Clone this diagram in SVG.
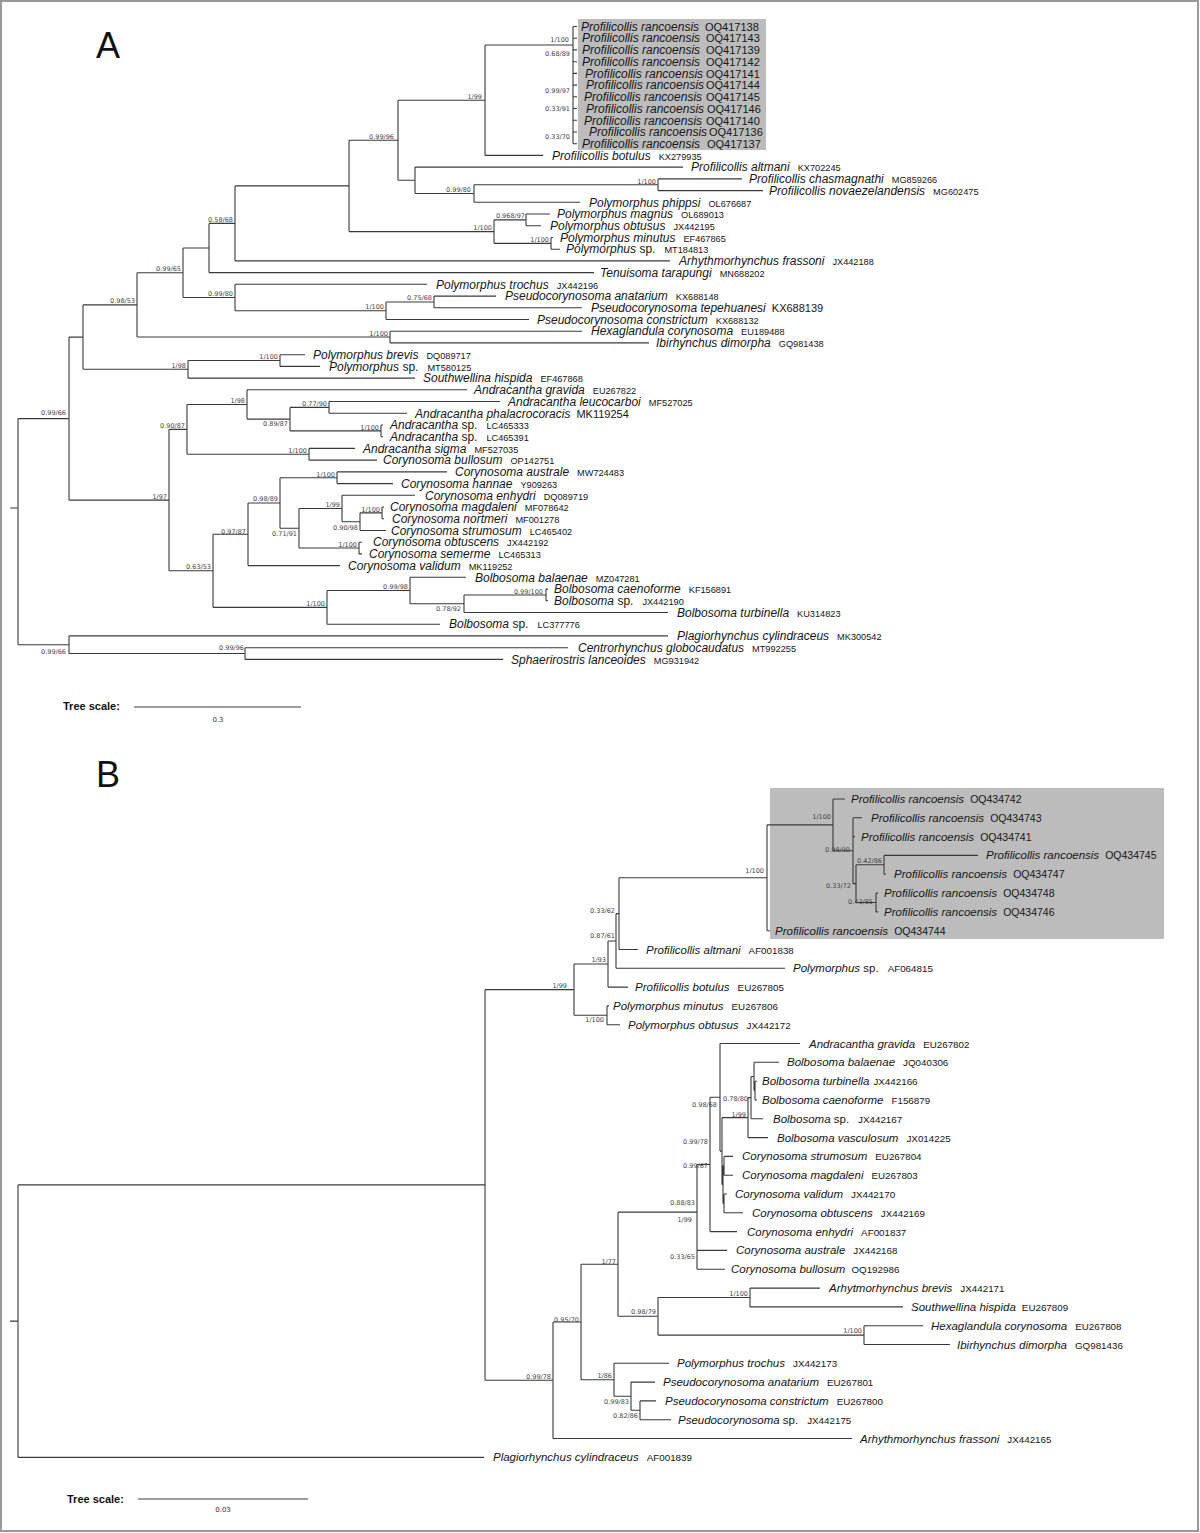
<svg xmlns="http://www.w3.org/2000/svg" width="1200" height="1533" viewBox="0 0 1200 1533">
<style>
.br{fill:none;stroke:#3a3a3a;stroke-width:1.1}
.sp{font-family:"Liberation Sans",Arial,sans-serif;font-style:italic;font-size:12px;fill:#151515}
.spb{font-family:"Liberation Sans",Arial,sans-serif;font-style:italic;font-size:11.5px;fill:#151515}
.ac{font-style:normal;font-size:9.2px}
.acb{font-style:normal;font-size:9.8px}
.al{font-style:normal;font-size:11px}
.al2{font-style:normal;font-size:10.5px}
.up{font-style:normal}
.bs{font-family:"DejaVu Sans",sans-serif;font-size:6.5px;fill:#444;text-anchor:end}
.ts{font-family:"Liberation Sans",Arial,sans-serif;font-weight:bold;font-size:11px;fill:#111}
.tv{font-family:"DejaVu Sans",sans-serif;font-size:7px;fill:#333;text-anchor:middle}
.pl{font-family:"Liberation Sans",Arial,sans-serif;font-size:36px;fill:#111}
.box{fill:#bcbcbc}
</style>
<rect x="0" y="0" width="1200" height="1533" fill="#fff"/>
<rect x="1" y="1" width="1197" height="1530" fill="none" stroke="#999" stroke-width="2"/>
<text class="pl" x="96" y="58">A</text>
<text class="pl" x="96" y="787">B</text>
<rect class="box" x="578" y="19" width="188" height="131"/>
<rect class="box" x="770" y="788" width="394" height="151"/>
<g id="connectors-A">
<path class="br" d="M573 26.5V143.7M573 26.5H577M573 38.2H577M573 49.9H577M573 61.7H577M573 73.4H577M573 85.1H577M573 96.8H577M573 108.5H577M573 120.3H577M573 132H577M573 143.7H577
M485 45H573
M485 45V155.4M485 155.4H543
M398 100.2V180.3M398 100.2H485M398 180.3H415
M415 167.1V193.5M415 167.1H683M415 193.5H474
M474 184.75V202.3M474 184.75H658M474 202.3H580
M658 178.9V190.6M658 178.9H742M658 190.6H763
M349 140.25V231.6M349 140.25H398M349 231.6H494
M494 219.85V243.35M494 219.85H526M494 243.35H551
M526 214V225.7M526 214H550M526 225.7H541
M551 237.5V249.2M551 237.5H553M551 249.2H560
M235 185.9V260.9M235 185.9H349M235 260.9H670
M209 223.4V272.6M209 223.4H235M209 272.6H594
M183 248V297.5M183 248H209M183 297.5H235
M235 284.3V310.7M235 284.3H427M235 310.7H386
M386 301.95V319.5M386 301.95H434M386 319.5H529
M434 296.1V307.8M434 296.1H496M434 307.8H582
M137 272.75V337.05M137 272.75H183M137 337.05H390
M390 331.2V342.9M390 331.2H582M390 342.9H649
M83 304.9V369.3M83 304.9H137M83 369.3H188
M188 360.55V378.1M188 360.55H280M188 378.1H415
M280 354.7V366.4M280 354.7H305M280 366.4H320
M69 337.1V500.1M69 337.1H83M69 500.1H169
M169 429.35V570.8M169 429.35H187M169 570.8H213
M187 404.45V454.25M187 404.45H247M187 454.25H309
M247 389.8V419.1M247 389.8H467M247 419.1H290
M290 407.4V430.85M290 407.4H329M290 430.85H381
M329 401.5V413.3M329 401.5H500M329 413.3H407
M381 425V436.7M381 425H383M381 436.7H383
M309 448.4V460.1M309 448.4H355M309 460.1H377
M213 534.3V607.35M213 534.3H248M213 607.35H327
M248 503V565.6M248 503H280M248 565.6H340
M280 477.75V528.3M280 477.75H337M280 528.3H299
M337 471.9V483.6M337 471.9H447M337 483.6H393
M299 508.5V548.05M299 508.5H342M299 548.05H359
M342 495.3V521.7M342 495.3H415M342 521.7H360
M360 512.85V530.5M360 512.85H382M360 530.5H386
M382 507V518.7M382 507H384M382 518.7H384
M359 542.2V553.9M359 542.2H362M359 553.9H362
M327 590.5V624.2M327 590.5H410M327 624.2H440
M410 577.3V603.7M410 577.3H466M410 603.7H464
M464 594.95V612.5M464 594.95H546M464 612.5H668
M546 589.1V600.8M546 589.1H548M546 600.8H548
M18 418.6V644.7M18 418.6H69M18 644.7H69M10 508H18
M69 635.9V653.55M69 635.9H668M69 653.55H245
M245 647.7V659.4M245 647.7H568M245 659.4H503
M134 707H301"/>
</g>
<g id="connectors-B">
<path class="br" d="M18 1184.9V1457.4M18 1184.9H485M18 1457.4H484M10 1321.1H18
M485 989.65V1380.24M485 989.65H574M485 1380.24H553
M574 964V1015.3M574 964H608M574 1015.3H607
M608 941V987.1M608 941H616M608 987.1H628
M616 913.65V968.3M616 913.65H619M616 968.3H785
M619 877.8V949.5M619 877.8H767M619 949.5H638
M767 824.85V930.7M767 824.85H833M767 930.7H770
M833 799V850.7M833 799H845M833 850.7H853
M853 817.8V883.65M853 817.8H862M853 836.6H855M853 883.65H856
M856 864.8V902.5M856 864.8H884M856 902.5H876
M884 855.4V874.2M884 855.4H978M884 874.2H886
M876 893.1V911.9M876 893.1H878M876 911.9H878
M607 1005.9V1024.7M607 1005.9H609M607 1024.7H620
M553 1321.98V1438.5M553 1321.98H581M553 1438.5H852
M581 1264.2V1379.75M581 1264.2H618M581 1379.75H614
M618 1212.15V1316.3M618 1212.15H697M618 1316.3H658
M697 1164.45V1269.3M697 1164.45H710M697 1250.4H727M697 1269.3H725
M710 1097.3V1231.6M710 1097.3H720M710 1231.6H737
M720 1043.5V1151.1M720 1043.5H800M720 1151.1H722
M722 1117.6V1184.6M722 1117.6H748M722 1184.6H723
M723 1165.8V1203.4M723 1165.8H724M723 1203.4H724
M724 1156.4V1175.2M724 1156.4H733M724 1175.2H733
M724 1194V1212.8M724 1194H727M724 1212.8H743
M748 1097.6V1137.6M748 1097.6H751M748 1137.6H768
M751 1076.45V1118.8M751 1076.45H754M751 1118.8H763
M754 1062.3V1090.6M754 1062.3H779M754 1090.6H755
M755 1081.2V1100M755 1081.2H757M755 1100H757
M658 1297.5V1335.1M658 1297.5H750M658 1335.1H864
M750 1288.1V1306.9M750 1288.1H820M750 1306.9H903
M864 1325.7V1344.5M864 1325.7H923M864 1344.5H950
M614 1363.3V1396.2M614 1363.3H669M614 1396.2H631
M631 1382.1V1410.3M631 1382.1H655M631 1410.3H640
M640 1400.9V1419.7M640 1400.9H656M640 1419.7H671
M138 1499H308"/>
</g>
<g id="tips-A">
<g id="a01"><text class="sp" x="581" y="30.7">Profilicollis rancoensis</text><text class="sp al" x="705" y="30.7">OQ417138</text></g>
<g id="a02"><text class="sp" x="582" y="42.4">Profilicollis rancoensis</text><text class="sp al" x="706" y="42.4">OQ417143</text></g>
<g id="a03"><text class="sp" x="582" y="54.1">Profilicollis rancoensis</text><text class="sp al" x="706" y="54.1">OQ417139</text></g>
<g id="a04"><text class="sp" x="582" y="65.9">Profilicollis rancoensis</text><text class="sp al" x="706" y="65.9">OQ417142</text></g>
<g id="a05"><text class="sp" x="585" y="77.6">Profilicollis rancoensis</text><text class="sp al" x="706" y="77.6">OQ417141</text></g>
<g id="a06"><text class="sp" x="586" y="89.3">Profilicollis rancoensis</text><text class="sp al" x="706" y="89.3">OQ417144</text></g>
<g id="a07"><text class="sp" x="584" y="101">Profilicollis rancoensis</text><text class="sp al" x="706" y="101">OQ417145</text></g>
<g id="a08"><text class="sp" x="586" y="112.7">Profilicollis rancoensis</text><text class="sp al" x="707" y="112.7">OQ417146</text></g>
<g id="a09"><text class="sp" x="584" y="124.5">Profilicollis rancoensis</text><text class="sp al" x="706" y="124.5">OQ417140</text></g>
<g id="a10"><text class="sp" x="589" y="136.2">Profilicollis rancoensis</text><text class="sp al" x="709" y="136.2">OQ417136</text></g>
<g id="a11"><text class="sp" x="582" y="147.9">Profilicollis rancoensis</text><text class="sp al" x="707" y="147.9">OQ417137</text></g>
<g id="a12"><text class="sp" x="552" y="159.6">Profilicollis botulus<tspan class="ac" dx="8">KX279935</tspan></text></g>
<g id="a13"><text class="sp" x="691" y="171.3">Profilicollis altmani<tspan class="ac" dx="8">KX702245</tspan></text></g>
<g id="a14"><text class="sp" x="749" y="183.1">Profilicollis chasmagnathi<tspan class="ac" dx="8">MG859266</tspan></text></g>
<g id="a15"><text class="sp" x="769" y="194.8">Profilicollis novaezelandensis<tspan class="ac" dx="8">MG602475</tspan></text></g>
<g id="a16"><text class="sp" x="589" y="206.5">Polymorphus phippsi<tspan class="ac" dx="8">OL676687</tspan></text></g>
<g id="a17"><text class="sp" x="557" y="218.2">Polymorphus magnus<tspan class="ac" dx="8">OL689013</tspan></text></g>
<g id="a18"><text class="sp" x="550" y="229.9">Polymorphus obtusus<tspan class="ac" dx="8">JX442195</tspan></text></g>
<g id="a19"><text class="sp" x="560" y="241.7">Polymorphus minutus<tspan class="ac" dx="8">EF467865</tspan></text></g>
<g id="a20"><text class="sp" x="566" y="253.4">Polymorphus <tspan class="up">sp.</tspan><tspan class="ac" dx="9">MT184813</tspan></text></g>
<g id="a21"><text class="sp" x="679" y="265.1">Arhythmorhynchus frassoni<tspan class="ac" dx="8">JX442188</tspan></text></g>
<g id="a22"><text class="sp" x="600" y="276.8">Tenuisoma tarapungi<tspan class="ac" dx="8">MN688202</tspan></text></g>
<g id="a23"><text class="sp" x="436" y="288.5">Polymorphus trochus<tspan class="ac" dx="8">JX442196</tspan></text></g>
<g id="a24"><text class="sp" x="505" y="300.3">Pseudocorynosoma anatarium<tspan class="ac" dx="8">KX688148</tspan></text></g>
<g id="a25"><text class="sp" x="591" y="312">Pseudocorynosoma tepehuanesi<tspan class="al" dx="6">KX688139</tspan></text></g>
<g id="a26"><text class="sp" x="537" y="323.7">Pseudocorynosoma constrictum<tspan class="ac" dx="8">KX688132</tspan></text></g>
<g id="a27"><text class="sp" x="591" y="335.4">Hexaglandula corynosoma<tspan class="ac" dx="8">EU189488</tspan></text></g>
<g id="a28"><text class="sp" x="656" y="347.1">Ibirhynchus dimorpha<tspan class="ac" dx="8">GQ981438</tspan></text></g>
<g id="a29"><text class="sp" x="313" y="358.9">Polymorphus brevis<tspan class="ac" dx="8">DQ089717</tspan></text></g>
<g id="a30"><text class="sp" x="329" y="370.6">Polymorphus <tspan class="up">sp.</tspan><tspan class="ac" dx="9">MT580125</tspan></text></g>
<g id="a31"><text class="sp" x="423" y="382.3">Southwellina hispida<tspan class="ac" dx="8">EF467868</tspan></text></g>
<g id="a32"><text class="sp" x="474" y="394">Andracantha gravida<tspan class="ac" dx="8">EU267822</tspan></text></g>
<g id="a33"><text class="sp" x="508" y="405.7">Andracantha leucocarboi<tspan class="ac" dx="8">MF527025</tspan></text></g>
<g id="a34"><text class="sp" x="415" y="417.5">Andracantha phalacrocoracis<tspan class="al" dx="6">MK119254</tspan></text></g>
<g id="a35"><text class="sp" x="390" y="429.2">Andracantha <tspan class="up">sp.</tspan><tspan class="ac" dx="9">LC465333</tspan></text></g>
<g id="a36"><text class="sp" x="390" y="440.9">Andracantha <tspan class="up">sp.</tspan><tspan class="ac" dx="9">LC465391</tspan></text></g>
<g id="a37"><text class="sp" x="363" y="452.6">Andracantha sigma<tspan class="ac" dx="8">MF527035</tspan></text></g>
<g id="a38"><text class="sp" x="383" y="464.3">Corynosoma bullosum<tspan class="ac" dx="8">OP142751</tspan></text></g>
<g id="a39"><text class="sp" x="455" y="476.1">Corynosoma australe<tspan class="ac" dx="8">MW724483</tspan></text></g>
<g id="a40"><text class="sp" x="401" y="487.8">Corynosoma hannae<tspan class="ac" dx="8">Y909263</tspan></text></g>
<g id="a41"><text class="sp" x="425" y="499.5">Corynosoma enhydri<tspan class="ac" dx="8">DQ089719</tspan></text></g>
<g id="a42"><text class="sp" x="390" y="511.2">Corynosoma magdaleni<tspan class="ac" dx="8">MF078642</tspan></text></g>
<g id="a43"><text class="sp" x="392" y="522.9">Corynosoma nortmeri<tspan class="ac" dx="8">MF001278</tspan></text></g>
<g id="a44"><text class="sp" x="391" y="534.7">Corynosoma strumosum<tspan class="ac" dx="8">LC465402</tspan></text></g>
<g id="a45"><text class="sp" x="373" y="546.4">Corynosoma obtuscens<tspan class="ac" dx="8">JX442192</tspan></text></g>
<g id="a46"><text class="sp" x="369" y="558.1">Corynosoma semerme<tspan class="ac" dx="8">LC465313</tspan></text></g>
<g id="a47"><text class="sp" x="348" y="569.8">Corynosoma validum<tspan class="ac" dx="8">MK119252</tspan></text></g>
<g id="a48"><text class="sp" x="475" y="581.5">Bolbosoma balaenae<tspan class="ac" dx="8">MZ047281</tspan></text></g>
<g id="a49"><text class="sp" x="554" y="593.3">Bolbosoma caenoforme<tspan class="ac" dx="8">KF156891</tspan></text></g>
<g id="a50"><text class="sp" x="554" y="605">Bolbosoma <tspan class="up">sp.</tspan><tspan class="ac" dx="9">JX442190</tspan></text></g>
<g id="a51"><text class="sp" x="677" y="616.7">Bolbosoma turbinella<tspan class="ac" dx="8">KU314823</tspan></text></g>
<g id="a52"><text class="sp" x="449" y="628.4">Bolbosoma <tspan class="up">sp.</tspan><tspan class="ac" dx="9">LC377776</tspan></text></g>
<g id="a53"><text class="sp" x="677" y="640.1">Plagiorhynchus cylindraceus<tspan class="ac" dx="8">MK300542</tspan></text></g>
<g id="a54"><text class="sp" x="578" y="651.9">Centrorhynchus globocaudatus<tspan class="ac" dx="8">MT992255</tspan></text></g>
<g id="a55"><text class="sp" x="511" y="663.6">Sphaerirostris lanceoides<tspan class="ac" dx="8">MG931942</tspan></text></g>
</g>
<g id="support-A">
<text class="bs" x="569" y="42.4">1/100</text>
<text class="bs" x="570" y="56.4">0.68/89</text>
<text class="bs" x="570" y="93.4">0.99/97</text>
<text class="bs" x="570" y="111.4">0.33/91</text>
<text class="bs" x="570" y="139.4">0.33/70</text>
<text class="bs" x="482" y="99.4">1/99</text>
<text class="bs" x="394" y="139.4">0.99/96</text>
<text class="bs" x="656" y="184.4">1/100</text>
<text class="bs" x="471" y="192.4">0.99/80</text>
<text class="bs" x="525" y="218.4">0.968/97</text>
<text class="bs" x="492" y="230.4">1/100</text>
<text class="bs" x="549" y="242.4">1/100</text>
<text class="bs" x="233" y="222.4">0.58/68</text>
<text class="bs" x="181" y="271.4">0.99/65</text>
<text class="bs" x="233" y="296.4">0.99/80</text>
<text class="bs" x="384" y="309.4">1/100</text>
<text class="bs" x="432" y="300.4">0.75/68</text>
<text class="bs" x="135" y="303.4">0.98/53</text>
<text class="bs" x="388" y="336.4">1/100</text>
<text class="bs" x="278" y="359.4">1/100</text>
<text class="bs" x="186" y="368.4">1/98</text>
<text class="bs" x="66" y="415.4">0.99/66</text>
<text class="bs" x="245" y="403.4">1/98</text>
<text class="bs" x="327" y="406.4">0.77/90</text>
<text class="bs" x="288" y="426.4">0.89/87</text>
<text class="bs" x="379" y="430.4">1/100</text>
<text class="bs" x="185" y="428.4">0.90/87</text>
<text class="bs" x="307" y="453.4">1/100</text>
<text class="bs" x="335" y="477.4">1/100</text>
<text class="bs" x="278" y="501.4">0.98/89</text>
<text class="bs" x="340" y="507.4">1/99</text>
<text class="bs" x="380" y="512.4">1/100</text>
<text class="bs" x="358" y="530.4">0.90/98</text>
<text class="bs" x="297" y="536.4">0.71/91</text>
<text class="bs" x="246" y="534.4">0.97/87</text>
<text class="bs" x="357" y="547.4">1/100</text>
<text class="bs" x="167" y="499.4">1/97</text>
<text class="bs" x="211" y="569.4">0.63/53</text>
<text class="bs" x="408" y="589.4">0.99/98</text>
<text class="bs" x="543" y="594.4">0.99/100</text>
<text class="bs" x="461" y="611.4">0.78/92</text>
<text class="bs" x="325" y="606.4">1/100</text>
<text class="bs" x="66" y="654.4">0.99/66</text>
<text class="bs" x="244" y="650.4">0.99/96</text>
</g>
<g id="scale-A">
<text class="ts" x="63" y="710">Tree scale:</text>
<text class="tv" x="218" y="722">0.3</text>
</g>
<g id="tips-B">
<g id="b01"><text class="spb" x="851" y="803">Profilicollis rancoensis<tspan class="al2" dx="6">OQ434742</tspan></text></g>
<g id="b02"><text class="spb" x="871" y="821.8">Profilicollis rancoensis<tspan class="al2" dx="6">OQ434743</tspan></text></g>
<g id="b03"><text class="spb" x="861" y="840.6">Profilicollis rancoensis<tspan class="al2" dx="6">OQ434741</tspan></text></g>
<g id="b04"><text class="spb" x="986" y="859.4">Profilicollis rancoensis<tspan class="al2" dx="6">OQ434745</tspan></text></g>
<g id="b05"><text class="spb" x="894" y="878.2">Profilicollis rancoensis<tspan class="al2" dx="6">OQ434747</tspan></text></g>
<g id="b06"><text class="spb" x="884" y="897.1">Profilicollis rancoensis<tspan class="al2" dx="6">OQ434748</tspan></text></g>
<g id="b07"><text class="spb" x="884" y="915.9">Profilicollis rancoensis<tspan class="al2" dx="6">OQ434746</tspan></text></g>
<g id="b08"><text class="spb" x="775" y="934.7">Profilicollis rancoensis<tspan class="al2" dx="6">OQ434744</tspan></text></g>
<g id="b09"><text class="spb" x="646" y="953.5">Profilicollis altmani<tspan class="acb" dx="8">AF001838</tspan></text></g>
<g id="b10"><text class="spb" x="793" y="972.3">Polymorphus <tspan class="up">sp.</tspan><tspan class="acb" dx="9">AF064815</tspan></text></g>
<g id="b11"><text class="spb" x="635" y="991.1">Profilicollis botulus<tspan class="acb" dx="8">EU267805</tspan></text></g>
<g id="b12"><text class="spb" x="613" y="1009.9">Polymorphus minutus<tspan class="acb" dx="8">EU267806</tspan></text></g>
<g id="b13"><text class="spb" x="628" y="1028.7">Polymorphus obtusus<tspan class="acb" dx="8">JX442172</tspan></text></g>
<g id="b14"><text class="spb" x="809" y="1047.5">Andracantha gravida<tspan class="acb" dx="8">EU267802</tspan></text></g>
<g id="b15"><text class="spb" x="787" y="1066.3">Bolbosoma balaenae<tspan class="acb" dx="8">JQ040306</tspan></text></g>
<g id="b16"><text class="spb" x="762" y="1085.2">Bolbosoma turbinella<tspan class="acb" dx="4">JX442166</tspan></text></g>
<g id="b17"><text class="spb" x="762" y="1104">Bolbosoma caenoforme<tspan class="acb" dx="8">F156879</tspan></text></g>
<g id="b18"><text class="spb" x="773" y="1122.8">Bolbosoma <tspan class="up">sp.</tspan><tspan class="acb" dx="9">JX442167</tspan></text></g>
<g id="b19"><text class="spb" x="777" y="1141.6">Bolbosoma vasculosum<tspan class="acb" dx="8">JX014225</tspan></text></g>
<g id="b20"><text class="spb" x="742" y="1160.4">Corynosoma strumosum<tspan class="acb" dx="8">EU267804</tspan></text></g>
<g id="b21"><text class="spb" x="742" y="1179.2">Corynosoma magdaleni<tspan class="acb" dx="8">EU267803</tspan></text></g>
<g id="b22"><text class="spb" x="735" y="1198">Corynosoma validum<tspan class="acb" dx="8">JX442170</tspan></text></g>
<g id="b23"><text class="spb" x="752" y="1216.8">Corynosoma obtuscens<tspan class="acb" dx="8">JX442169</tspan></text></g>
<g id="b24"><text class="spb" x="747" y="1235.6">Corynosoma enhydri<tspan class="acb" dx="8">AF001837</tspan></text></g>
<g id="b25"><text class="spb" x="736" y="1254.4">Corynosoma australe<tspan class="acb" dx="8">JX442168</tspan></text></g>
<g id="b26"><text class="spb" x="731" y="1273.3">Corynosoma bullosum<tspan class="acb" dx="6">OQ192986</tspan></text></g>
<g id="b27"><text class="spb" x="829" y="1292.1">Arhytmorhynchus brevis<tspan class="acb" dx="8">JX442171</tspan></text></g>
<g id="b28"><text class="spb" x="911" y="1310.9">Southwellina hispida<tspan class="acb" dx="6">EU267809</tspan></text></g>
<g id="b29"><text class="spb" x="931" y="1329.7">Hexaglandula corynosoma<tspan class="acb" dx="8">EU267808</tspan></text></g>
<g id="b30"><text class="spb" x="957" y="1348.5">Ibirhynchus dimorpha<tspan class="acb" dx="8">GQ981436</tspan></text></g>
<g id="b31"><text class="spb" x="677" y="1367.3">Polymorphus trochus<tspan class="acb" dx="8">JX442173</tspan></text></g>
<g id="b32"><text class="spb" x="663" y="1386.1">Pseudocorynosoma anatarium<tspan class="acb" dx="8">EU267801</tspan></text></g>
<g id="b33"><text class="spb" x="665" y="1404.9">Pseudocorynosoma constrictum<tspan class="acb" dx="8">EU267800</tspan></text></g>
<g id="b34"><text class="spb" x="678" y="1423.7">Pseudocorynosoma <tspan class="up">sp.</tspan><tspan class="acb" dx="9">JX442175</tspan></text></g>
<g id="b35"><text class="spb" x="860" y="1442.5">Arhythmorhynchus frassoni<tspan class="acb" dx="8">JX442165</tspan></text></g>
<g id="b36"><text class="spb" x="493" y="1461.4">Plagiorhynchus cylindraceus<tspan class="acb" dx="8">AF001839</tspan></text></g>
</g>
<g id="support-B">
<text class="bs" x="764" y="873.4">1/100</text>
<text class="bs" x="831" y="819.4">1/100</text>
<text class="bs" x="850" y="852.4">0.98/90</text>
<text class="bs" x="882" y="863.4">0.42/86</text>
<text class="bs" x="851" y="888.4">0.33/72</text>
<text class="bs" x="873" y="904.4">0.43/85</text>
<text class="bs" x="615" y="913.4">0.33/62</text>
<text class="bs" x="615" y="938.4">0.87/61</text>
<text class="bs" x="606" y="962.4">1/93</text>
<text class="bs" x="567" y="988.4">1/99</text>
<text class="bs" x="604" y="1022.4">1/100</text>
<text class="bs" x="717" y="1107.4">0.98/68</text>
<text class="bs" x="748" y="1101.4">0.78/80</text>
<text class="bs" x="746" y="1117.4">1/99</text>
<text class="bs" x="708" y="1144.4">0.99/78</text>
<text class="bs" x="708" y="1168.4">0.99/67</text>
<text class="bs" x="695" y="1205.4">0.88/83</text>
<text class="bs" x="692" y="1222.4">1/99</text>
<text class="bs" x="695" y="1259.4">0.33/65</text>
<text class="bs" x="616" y="1264.4">1/77</text>
<text class="bs" x="748" y="1296.4">1/100</text>
<text class="bs" x="656" y="1314.4">0.98/79</text>
<text class="bs" x="862" y="1333.4">1/100</text>
<text class="bs" x="579" y="1322.4">0.95/70</text>
<text class="bs" x="612" y="1378.4">1/86</text>
<text class="bs" x="629" y="1404.4">0.99/83</text>
<text class="bs" x="638" y="1418.4">0.82/86</text>
<text class="bs" x="551" y="1379.4">0.99/78</text>
</g>
<g id="scale-B">
<text class="ts" x="67" y="1503">Tree scale:</text>
<text class="tv" x="223" y="1512">0.03</text>
</g>
</svg>
